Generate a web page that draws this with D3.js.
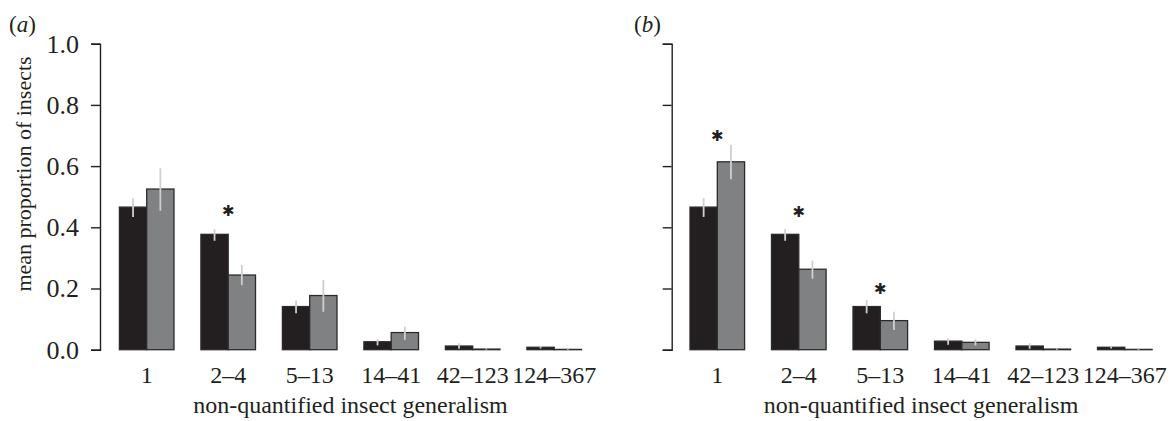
<!DOCTYPE html>
<html>
<head>
<meta charset="utf-8">
<script src="https://cdn.jsdelivr.net/npm/d3@7"></script>
<style>
  html, body { margin: 0; padding: 0; background: #fff; }
  svg { display: block; }
  text { font-family: "Liberation Serif", "Times New Roman", serif; fill: #231f20; }
</style>
</head>
<body>
<svg id="chart" width="1176" height="421"></svg>
<script>
// ---- data ----
const categories = ["1", "2\u20134", "5\u201313", "14\u201341", "42\u2013123", "124\u2013367"];
const yTicks = [0, 0.2, 0.4, 0.6, 0.8, 1.0];

// panel (a)
const aBlack    = [0.466, 0.377, 0.141, 0.026, 0.012, 0.008];
const aBlackLo  = [0.434, 0.356, 0.119, 0.014, 0.003, 0.004];
const aBlackHi  = [0.495, 0.394, 0.161, 0.035, 0.021, 0.011];
const aGrey     = [0.525, 0.244, 0.177, 0.056, 0.002, 0.001];
const aGreyLo   = [0.454, 0.211, 0.124, 0.032, 0.000, 0.000];
const aGreyHi   = [0.593, 0.277, 0.228, 0.075, 0.004, 0.003];
const aStars    = [{cat: "2\u20134", y: 0.452}];

// panel (b)
const bBlack    = [0.466, 0.377, 0.141, 0.028, 0.012, 0.008];
const bBlackLo  = [0.434, 0.356, 0.119, 0.016, 0.003, 0.004];
const bBlackHi  = [0.495, 0.394, 0.162, 0.037, 0.021, 0.011];
const bGrey     = [0.614, 0.263, 0.095, 0.024, 0.002, 0.001];
const bGreyLo   = [0.557, 0.232, 0.064, 0.014, 0.000, 0.000];
const bGreyHi   = [0.669, 0.291, 0.124, 0.034, 0.004, 0.003];
const bStars    = [{cat: "1", y: 0.699}, {cat: "2\u20134", y: 0.449}, {cat: "5\u201313", y: 0.198}];

const series = ["black", "grey"];
const fills = {black: "#231f20", grey: "#808183"};

const svg = d3.select("#chart");

const y = d3.scaleLinear().domain([0, 1]).range([349.7, 43.7]);

function panel(opts) {
  const g = svg.append("g");
  const x = d3.scaleBand().domain(categories)
    .range([opts.x0, opts.x0 + 489])
    .paddingInner(0.33).paddingOuter(0.165);
  const xs = d3.scaleBand().domain(series).range([0, x.bandwidth()]);

  // y axis
  const axis = d3.axisLeft(y).tickValues(yTicks).tickSize(9).tickPadding(12)
    .tickFormat(opts.labels ? d3.format(".1f") : () => "");
  const ag = g.append("g").attr("transform", `translate(${opts.axisX},0)`).call(axis);
  ag.select(".domain").attr("stroke", "#231f20").attr("stroke-width", 1.4);
  ag.selectAll(".tick line").attr("stroke", "#231f20").attr("stroke-width", 1.4);
  ag.selectAll(".tick text").style("font-family", '"Liberation Serif", serif')
    .style("font-size", "26px").attr("fill", "#231f20");

  const rows = categories.map((c, i) => ({
    cat: c,
    black: {v: opts.black[i], lo: opts.blackLo[i], hi: opts.blackHi[i]},
    grey:  {v: opts.grey[i],  lo: opts.greyLo[i],  hi: opts.greyHi[i]}
  }));

  series.forEach(s => {
    g.append("g").selectAll("rect").data(rows).join("rect")
      .attr("x", d => x(d.cat) + xs(s))
      .attr("y", d => y(d[s].v))
      .attr("width", xs.bandwidth())
      .attr("height", d => y(0) - y(d[s].v))
      .attr("fill", fills[s])
      .attr("stroke", "#2b2b2b")
      .attr("stroke-width", 1.3);
  });
  series.forEach(s => {
    g.append("g").selectAll("line").data(rows).join("line")
      .attr("x1", d => x(d.cat) + xs(s) + xs.bandwidth() / 2)
      .attr("x2", d => x(d.cat) + xs(s) + xs.bandwidth() / 2)
      .attr("y1", d => y(d[s].lo))
      .attr("y2", d => y(d[s].hi))
      .attr("stroke", "#cfcfcf")
      .attr("stroke-width", 1.8);
  });

  // asterisks
  g.append("g").selectAll("text").data(opts.stars).join("text")
    .attr("x", d => x(d.cat) + x.bandwidth() / 2)
    .attr("y", d => y(d.y))
    .attr("text-anchor", "middle")
    .attr("dominant-baseline", "central")
    .style("font-family", '"DejaVu Sans", sans-serif')
    .style("font-size", "15px")
    .style("fill", "#231f20")
    .text("\u2731");

  // x tick labels
  g.append("g").selectAll("text").data(categories).join("text")
    .attr("x", d => x(d) + x.bandwidth() / 2)
    .attr("y", 383)
    .attr("text-anchor", "middle")
    .style("font-size", "24px")
    .text(d => d);

  // x title
  g.append("text")
    .attr("x", x(categories[0]) + (x(categories[5]) + x.bandwidth() - x(categories[0])) / 2)
    .attr("y", 413)
    .attr("text-anchor", "middle")
    .style("font-size", "24px")
    .text("non-quantified insect generalism");

  // panel label
  const pl = g.append("text").attr("x", opts.labelX).attr("y", 32).style("font-size", "23px");
  pl.append("tspan").text("(");
  pl.append("tspan").style("font-style", "italic").text(opts.letter);
  pl.append("tspan").text(")");
}

panel({x0: 105.95, axisX: 100, labels: true, letter: "a", labelX: 9,
  black: aBlack, blackLo: aBlackLo, blackHi: aBlackHi,
  grey: aGrey, greyLo: aGreyLo, greyHi: aGreyHi, stars: aStars});
panel({x0: 676.55, axisX: 671.7, labels: false, letter: "b", labelX: 634,
  black: bBlack, blackLo: bBlackLo, blackHi: bBlackHi,
  grey: bGrey, greyLo: bGreyLo, greyHi: bGreyHi, stars: bStars});

// y axis title
svg.append("text")
  .attr("transform", "translate(31,174) rotate(-90)")
  .attr("text-anchor", "middle")
  .style("font-size", "22px")
  .text("mean proportion of insects");
</script>
</body>
</html>
